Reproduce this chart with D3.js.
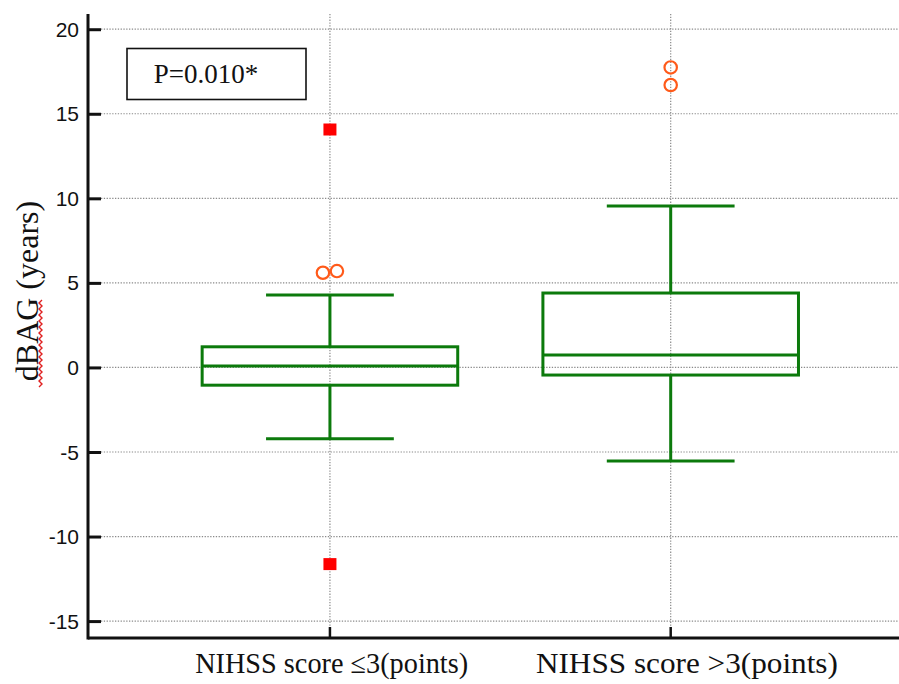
<!DOCTYPE html>
<html>
<head>
<meta charset="utf-8">
<script src="https://cdn.jsdelivr.net/npm/d3@7"></script>
<style>
  html, body { margin: 0; padding: 0; background: #fff; }
  svg { display: block; }
  .serif { font-family: "Liberation Serif", "Times New Roman", "DejaVu Serif", serif; }
  .sans { font-family: "Liberation Sans", Arial, sans-serif; }
</style>
</head>
<body>
<svg id="chart" width="899" height="684"></svg>
<script>
// Box-and-whisker summary of dBAG by NIHSS score group
const categories = ["NIHSS score \u22643(points)", "NIHSS score >3(points)"];
const q1Values = [-1.05, -0.45];
const medianValues = [0.08, 0.73];
const q3Values = [1.22, 4.40];
const whiskerLow = [-4.22, -5.53];
const whiskerHigh = [4.28, 9.54];
// outside values (circles) and far-out values (squares) per group
const outsideValues = [[5.6, 5.7], [16.7, 17.74]];
const farOutValues = [[14.07, -11.63], []];
const yTicks = [20, 15, 10, 5, 0, -5, -10, -15];
const pLabel = "P=0.010*";
const yTitle = "dBAG (years)";

const plot = { left: 88, top: 14, right: 899, bottom: 638 };
const svg = d3.select("#chart");

const x = d3.scaleLinear().domain([0.29, 2.67]).range([plot.left, plot.right]);
const y = d3.scaleLinear().domain([-16, 20.9]).range([plot.bottom, plot.top]);

const boxW = x(1.75) - x(1);      // full box width in pixels
const capW = boxW / 2;            // whisker cap width
const green = "#0c7a0c";
const grid = "#8a8a8a";

// dotted grid lines
svg.append("g").selectAll("line").data(yTicks).join("line")
  .attr("x1", plot.left + 13).attr("x2", plot.right)
  .attr("y1", d => y(d)).attr("y2", d => y(d))
  .attr("stroke", grid).attr("stroke-width", 1.2).attr("stroke-dasharray", "1.3,1.5");
svg.append("g").selectAll("line").data(categories).join("line")
  .attr("x1", (d, i) => x(i + 1)).attr("x2", (d, i) => x(i + 1))
  .attr("y1", plot.top).attr("y2", plot.bottom - 10)
  .attr("stroke", grid).attr("stroke-width", 1.2).attr("stroke-dasharray", "1.3,1.5");

// y axis with inward ticks
const yAxis = d3.axisRight(y).tickValues(yTicks).tickSize(13).tickFormat("");
const gy = svg.append("g").attr("transform", `translate(${plot.left},0)`).call(yAxis);
gy.select(".domain").remove();
gy.selectAll(".tick line").attr("stroke", "#111").attr("stroke-width", 3);
svg.append("line").attr("x1", plot.left).attr("x2", plot.left)
  .attr("y1", plot.top).attr("y2", plot.bottom + 1.5)
  .attr("stroke", "#111").attr("stroke-width", 3);
svg.append("g").selectAll("text").data(yTicks).join("text")
  .attr("class", "sans")
  .attr("x", plot.left - 9).attr("y", d => y(d)).attr("dy", "0.36em")
  .attr("text-anchor", "end").attr("font-size", 21)
  .attr("fill", "#111").text(d => d);

// x axis with upward ticks
svg.append("line").attr("x1", plot.left).attr("x2", plot.right)
  .attr("y1", plot.bottom).attr("y2", plot.bottom)
  .attr("stroke", "#111").attr("stroke-width", 3);
svg.append("g").selectAll("line").data(categories).join("line")
  .attr("x1", (d, i) => x(i + 1)).attr("x2", (d, i) => x(i + 1))
  .attr("y1", plot.bottom).attr("y2", plot.bottom - 11)
  .attr("stroke", "#111").attr("stroke-width", 2.5);
const labelWidths = [273, 302];
svg.append("g").selectAll("text").data(categories).join("text")
  .attr("class", "serif")
  .attr("x", (d, i) => x(i + 1) - boxW / 2 - 7).attr("y", 673)
  .attr("font-size", 29)
  .attr("textLength", (d, i) => labelWidths[i]).attr("lengthAdjust", "spacingAndGlyphs")
  .attr("fill", "#111").text(d => d);

// boxes
const boxes = svg.append("g").attr("fill", "none").attr("stroke", green).attr("stroke-width", 3);
categories.forEach((c, i) => {
  const cx = x(i + 1);
  const g = boxes.append("g");
  g.append("line").attr("x1", cx).attr("x2", cx).attr("y1", y(q3Values[i])).attr("y2", y(whiskerHigh[i]));
  g.append("line").attr("x1", cx).attr("x2", cx).attr("y1", y(q1Values[i])).attr("y2", y(whiskerLow[i]));
  g.append("line").attr("x1", cx - capW / 2).attr("x2", cx + capW / 2).attr("y1", y(whiskerHigh[i])).attr("y2", y(whiskerHigh[i]));
  g.append("line").attr("x1", cx - capW / 2).attr("x2", cx + capW / 2).attr("y1", y(whiskerLow[i])).attr("y2", y(whiskerLow[i]));
  g.append("rect").attr("x", cx - boxW / 2).attr("y", y(q3Values[i]))
    .attr("width", boxW).attr("height", y(q1Values[i]) - y(q3Values[i]));
  g.append("line").attr("x1", cx - boxW / 2).attr("x2", cx + boxW / 2).attr("y1", y(medianValues[i])).attr("y2", y(medianValues[i]));
});

// spread markers horizontally when their values sit too close to each other
function dodge(vals) {
  const off = vals.map(() => 0);
  for (let a = 0; a < vals.length; a++)
    for (let b = a + 1; b < vals.length; b++)
      if (Math.abs(y(vals[a]) - y(vals[b])) < 10) { off[a] -= 7; off[b] += 7; }
  return off;
}

const outG = svg.append("g");
outsideValues.forEach((vals, i) => {
  const off = dodge(vals);
  vals.forEach((v, k) => {
    outG.append("circle").attr("cx", x(i + 1) + off[k]).attr("cy", y(v)).attr("r", 6.2)
      .attr("fill", "none").attr("stroke", "#ff5a1a").attr("stroke-width", 2.2);
  });
});
farOutValues.forEach((vals, i) => {
  vals.forEach(v => {
    outG.append("rect").attr("x", x(i + 1) - 6.5).attr("y", y(v) - 6)
      .attr("width", 13).attr("height", 12).attr("fill", "#ff0000");
  });
});

// P-value box
const pb = svg.append("g");
pb.append("rect").attr("x", 127).attr("y", 48.5).attr("width", 179).attr("height", 51)
  .attr("fill", "#fff").attr("stroke", "#111").attr("stroke-width", 1.6);
pb.append("text").attr("class", "serif").attr("x", 206).attr("y", 83).attr("text-anchor", "middle")
  .attr("font-size", 27).attr("fill", "#111").text(pLabel);

// y axis title
const yt = svg.append("g").attr("transform", "translate(38,291) rotate(-90)");
yt.append("text").attr("class", "serif").attr("text-anchor", "middle")
  .attr("font-size", 32).attr("fill", "#111").text(yTitle);
// wavy red underline beneath the abbreviation
const wave = [];
for (let t = 0; t <= 88; t += 3) wave.push([-96 + t, 1 + ((t / 3) % 2 ? 3 : 0)]);
yt.append("path").attr("d", d3.line()(wave)).attr("fill", "none")
  .attr("stroke", "#e02020").attr("stroke-width", 1.4);
</script>
</body>
</html>
